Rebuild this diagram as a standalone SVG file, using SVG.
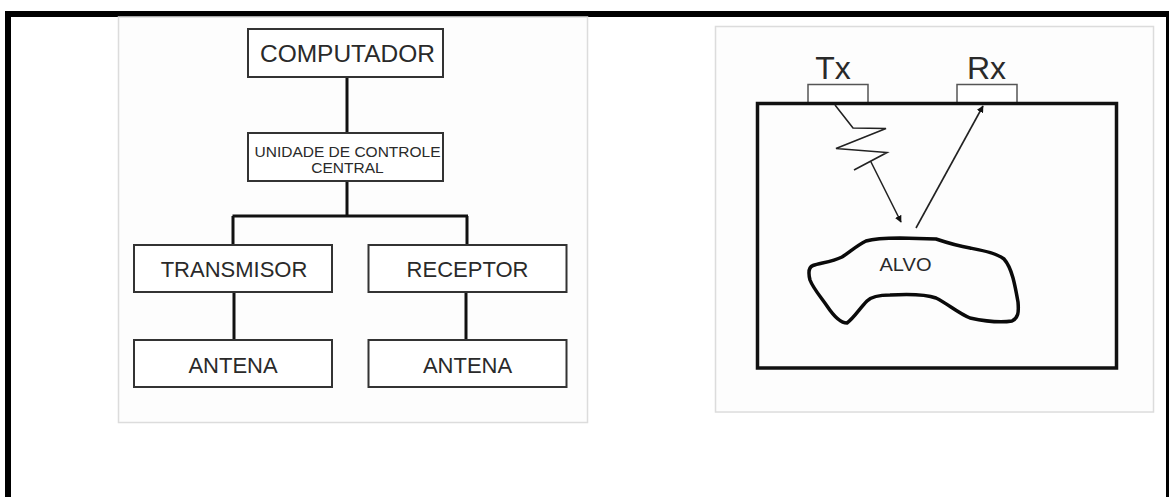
<svg xmlns="http://www.w3.org/2000/svg" width="1169" height="497" viewBox="0 0 1169 497">
<defs>
<style>
.box{fill:#fff;stroke:#333;stroke-width:2}
.lbl{font-family:"Liberation Sans",Arial,sans-serif;fill:#2a2a2a;text-anchor:middle}
.wire{stroke:#111;stroke-width:3;fill:none}
.ant{fill:#fff;stroke:#555;stroke-width:1.5}
.ray{stroke:#222;stroke-width:1.6;fill:none}
</style>
<marker id="ah" viewBox="0 0 10 10" refX="9" refY="5" markerWidth="7" markerHeight="7" orient="auto" markerUnits="userSpaceOnUse">
<path d="M0,0 L10,5 L0,10 z" fill="#111"/>
</marker>
</defs>
<rect width="1169" height="497" fill="#fff"/>
<!-- outer frame -->
<rect x="5" y="11" width="1164" height="6" fill="#000"/>
<rect x="5" y="11" width="6" height="486" fill="#000"/>
<rect x="1166" y="11" width="3" height="486" fill="#000"/>
<!-- panels -->
<rect x="118.5" y="17" width="469" height="405.5" fill="#fdfdfd" stroke="#dcdcdc" stroke-width="1.5"/>
<rect x="715.5" y="26.5" width="438" height="385.5" fill="#fdfdfd" stroke="#dcdcdc" stroke-width="1.5"/>

<g id="connectors">
<path class="wire" d="M347,77 V133"/>
<path class="wire" d="M347,181 V216"/>
<path class="wire" d="M232.5,216 H468 M233,216 V245 M467,216 V245"/>
<path class="wire" d="M234,292 V340"/>
<path class="wire" d="M466,292 V340"/>
</g>

<g id="computador">
<rect class="box" x="248" y="29" width="195" height="48"/>
<text class="lbl" x="347.5" y="62" font-size="24" textLength="175" lengthAdjust="spacingAndGlyphs">COMPUTADOR</text>
</g>
<g id="unidade">
<rect class="box" x="248" y="133" width="195" height="48"/>
<text class="lbl" x="347.5" y="157" font-size="15.5" textLength="186" lengthAdjust="spacingAndGlyphs">UNIDADE DE CONTROLE</text>
<text class="lbl" x="347.5" y="173" font-size="15.5">CENTRAL</text>
</g>
<g id="transmisor">
<rect class="box" x="134" y="245" width="198" height="47"/>
<text class="lbl" x="234" y="276.5" font-size="22">TRANSMISOR</text>
</g>
<g id="receptor">
<rect class="box" x="368.5" y="245" width="198" height="47"/>
<text class="lbl" x="467.5" y="276.5" font-size="22">RECEPTOR</text>
</g>
<g id="antena1">
<rect class="box" x="134" y="340" width="198" height="47"/>
<text class="lbl" x="233" y="373" font-size="22">ANTENA</text>
</g>
<g id="antena2">
<rect class="box" x="368.5" y="340" width="198" height="47"/>
<text class="lbl" x="467.5" y="373" font-size="22">ANTENA</text>
</g>

<!-- right scene -->
<g id="scene">
<rect x="808" y="84.5" width="60" height="19" class="ant"/>
<rect x="957" y="84.5" width="60" height="19" class="ant"/>
<text class="lbl" x="833" y="79" font-size="32" fill="#222">Tx</text>
<text class="lbl" x="986.5" y="79" font-size="32" fill="#222">Rx</text>
<rect x="757.5" y="103.5" width="359" height="264.5" fill="none" stroke="#111" stroke-width="3.5"/>
<path class="ray" d="M835,105 L853,128 L886,128.5 L836,148.5 L887,152.5 L854,170"/>
<path class="ray" d="M870.5,161 L901,222" marker-end="url(#ah)"/>
<path class="ray" d="M916,228 L983,106" marker-end="url(#ah)"/>
<path d="M813,265.5 C820,263 832,262 842,257 C850,252 856,246 866,241 C876,238 888,238 900,238 L936,239 C948,243 958,246 970,248 C985,251 996,253 1004,259 C1012,268 1015,285 1018,302 C1019,313 1018,318 1012,321 C1000,323 984,321 970,318 C958,313 948,304 936,298 C925,294 908,294 890,295 C880,295 872,296 867,301 C860,308 854,318 847,323 C840,323 833,315 827,306 C820,296 813,288 810,280 C808,272 809,267 813,265.5 Z" fill="none" stroke="#0a0a0a" stroke-width="3.5" stroke-linejoin="round"/>
<text class="lbl" x="905.5" y="271" font-size="19" fill="#444" textLength="52" lengthAdjust="spacingAndGlyphs">ALVO</text>
</g>
</svg>
